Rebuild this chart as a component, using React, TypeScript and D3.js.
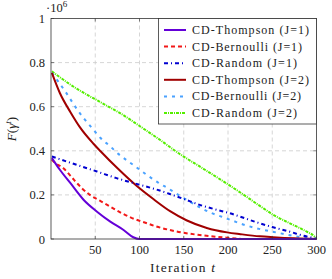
import { useEffect, useRef } from 'react';
import * as d3 from 'd3';

// iteration t, value in units of 1e6
const thompson1: [number, number][] = [
	[1, 0.367], [10, 0.314], [22, 0.253], [37, 0.177], [52, 0.124], [67, 0.079], [82, 0.041], [93, 0.008], [100, 0.0], [150, 0.0], [300, 0.0],
];
const bernoulli1: [number, number][] = [
	[1, 0.36], [3, 0.351], [14, 0.321], [26, 0.268], [35, 0.23], [44, 0.2], [56, 0.172], [67, 0.147], [80, 0.117], [91, 0.096], [105, 0.076], [118, 0.058], [142, 0.034], [168, 0.018], [199, 0.006], [220, 0.0], [300, 0.0],
];
const random1: [number, number][] = [
	[1, 0.374], [18, 0.351], [52, 0.306], [74, 0.276], [101, 0.245], [118, 0.226], [135, 0.203], [151, 0.18], [168, 0.155], [185, 0.135], [202, 0.117], [219, 0.094], [236, 0.071], [251, 0.053], [270, 0.033], [285, 0.015], [296, 0.005], [300, 0.0],
];
const thompson2: [number, number][] = [
	[1, 0.753], [10, 0.662], [22, 0.575], [33, 0.505], [48, 0.432], [56, 0.398], [74, 0.325], [97, 0.24], [116, 0.18], [135, 0.125], [153, 0.085], [176, 0.05], [199, 0.03], [214, 0.022], [236, 0.012], [251, 0.008], [275, 0.003], [300, 0.0],
];
const bernoulli2: [number, number][] = [
	[1, 0.753], [8, 0.715], [16, 0.67], [24, 0.621], [31, 0.579], [39, 0.538], [48, 0.495], [56, 0.458], [67, 0.42], [76, 0.386], [86, 0.356], [99, 0.318], [110, 0.286], [121, 0.256], [133, 0.228], [144, 0.2], [168, 0.144], [180, 0.12], [193, 0.101], [206, 0.082], [217, 0.066], [232, 0.049], [259, 0.026], [274, 0.014], [285, 0.006], [295, 0.0], [300, 0.0],
];
const random2: [number, number][] = [
	[1, 0.76], [22, 0.7], [56, 0.62], [78, 0.571], [101, 0.51], [123, 0.45], [146, 0.384], [168, 0.329], [189, 0.276], [215, 0.208], [236, 0.15], [251, 0.11], [270, 0.071], [289, 0.033], [298, 0.01], [300, 0.0],
];

const seriesNames = [
	'CD-Thompson (J=1)', 'CD-Bernoulli (J=1)', 'CD-Random (J=1)',
	'CD-Thompson (J=2)', 'CD-Bernoulli (J=2)', 'CD-Random (J=2)',
];
const seriesData = [thompson1, bernoulli1, random1, thompson2, bernoulli2, random2];
const seriesColors = ['#6400d8', '#f21818', '#0000d0', '#a00000', '#4aa2ff', '#55ee00'];
const seriesDash = ['', '4,3', '4,3,1,3', '', '3,5', '3,1,1,1'];
const legendWidths = [117, 110, 105, 117, 109, 105];

const xTicks = [50, 100, 150, 200, 250, 300];
const yTicks = [0, 0.2, 0.4, 0.6, 0.8, 1];

const FONT = '"Liberation Serif", "DejaVu Serif", "Times New Roman", serif';

const App = () => {
	const ref = useRef<SVGSVGElement>(null);

	useEffect(() => {
		if (!ref.current) return;
		const svg = d3.select(ref.current);
		svg.selectAll('*').remove();

		const left = 51, right = 316.5, top = 18.5, bottom = 239;
		const x = d3.scaleLinear().domain([0, 300]).range([left, right]);
		const y = d3.scaleLinear().domain([0, 1]).range([bottom, top]);

		// grid
		const grid = svg.append('g')
			.attr('stroke', '#cccccc')
			.attr('stroke-width', 0.8)
			.attr('stroke-dasharray', '4,3');
		xTicks.filter(t => t < 300).forEach(t => {
			grid.append('line').attr('x1', x(t)).attr('x2', x(t)).attr('y1', top).attr('y2', bottom);
		});
		yTicks.filter(t => t > 0 && t < 1).forEach(t => {
			grid.append('line').attr('x1', left).attr('x2', right).attr('y1', y(t)).attr('y2', y(t));
		});

		// series
		const line = d3.line<[number, number]>()
			.x(d => x(d[0]))
			.y(d => y(d[1]))
			.curve(d3.curveMonotoneX);
		const order = [5, 4, 3, 2, 1, 0];
		order.forEach(i => {
			svg.append('path')
				.datum(seriesData[i])
				.attr('fill', 'none')
				.attr('stroke', seriesColors[i])
				.attr('stroke-width', 2)
				.attr('stroke-dasharray', seriesDash[i] || null)
				.attr('d', line);
		});

		// frame
		svg.append('rect')
			.attr('x', left).attr('y', top)
			.attr('width', right - left).attr('height', bottom - top)
			.attr('fill', 'none')
			.attr('stroke', '#333')
			.attr('stroke-width', 0.8);

		// ticks
		const tk = svg.append('g').attr('stroke', '#333').attr('stroke-width', 0.6);
		xTicks.forEach(t => {
			tk.append('line').attr('x1', x(t)).attr('x2', x(t)).attr('y1', bottom).attr('y2', bottom - 3);
			tk.append('line').attr('x1', x(t)).attr('x2', x(t)).attr('y1', top).attr('y2', top + 3);
		});
		yTicks.forEach(t => {
			tk.append('line').attr('x1', left).attr('x2', left + 3).attr('y1', y(t)).attr('y2', y(t));
			tk.append('line').attr('x1', right).attr('x2', right - 3).attr('y1', y(t)).attr('y2', y(t));
		});

		const txt = svg.append('g')
			.style('font-family', FONT)
			.style('font-size', '12.5px')
			.attr('fill', '#222');
		xTicks.forEach(t => {
			txt.append('text')
				.attr('x', x(t)).attr('y', bottom + 15)
				.attr('text-anchor', 'middle')
				.text(t);
		});
		yTicks.forEach(t => {
			txt.append('text')
				.attr('x', left - 6).attr('y', y(t) + 4.5)
				.attr('text-anchor', 'end')
				.text(String(t));
		});

		// exponent
		const exp = txt.append('text').attr('x', 46).attr('y', 12);
		exp.append('tspan').text('·10');
		exp.append('tspan').style('font-size', '9px').attr('dy', -5).text('6');

		// x label
		const xl = txt.append('text')
			.attr('x', 150).attr('y', 272)
			.style('font-size', '13.5px')
			.attr('textLength', 65)
			.attr('lengthAdjust', 'spacing');
		xl.append('tspan').text('Iteration ');
		xl.append('tspan').style('font-style', 'italic').text('t');

		// y label
		const yl = txt.append('text')
			.attr('transform', `translate(16, 129) rotate(-90)`)
			.attr('text-anchor', 'middle')
			.style('font-size', '13px');
		yl.append('tspan').style('font-style', 'italic').text('F');
		yl.append('tspan').text('(');
		yl.append('tspan').style('font-style', 'italic').text('γ');
		yl.append('tspan').style('font-style', 'italic').style('font-size', '9px').attr('dy', -5).text('t');
		yl.append('tspan').attr('dy', 5).text(')');

		// legend
		const lg = svg.append('g');
		lg.append('rect')
			.attr('x', 158.5).attr('y', top)
			.attr('width', right - 158.5).attr('height', 105.5)
			.attr('fill', 'white')
			.attr('stroke', '#333')
			.attr('stroke-width', 0.8);
		seriesNames.forEach((name, i) => {
			const yy = 30 + i * 16.6;
			lg.append('line')
				.attr('x1', 164).attr('x2', 186)
				.attr('y1', yy).attr('y2', yy)
				.attr('stroke', seriesColors[i])
				.attr('stroke-width', 2)
				.attr('stroke-dasharray', seriesDash[i] || null);
			lg.append('text')
				.attr('x', 192).attr('y', yy + 4)
				.style('font-family', FONT)
				.style('font-size', '12px')
				.attr('fill', '#222')
				.attr('textLength', legendWidths[i])
				.attr('lengthAdjust', 'spacing')
				.text(name);
		});
	}, []);

	return (
		<div>
			<svg ref={ref} width={332} height={279} style={{ position: 'absolute', left: 0, top: 0 }}></svg>
		</div>
	);
};

export default App;
